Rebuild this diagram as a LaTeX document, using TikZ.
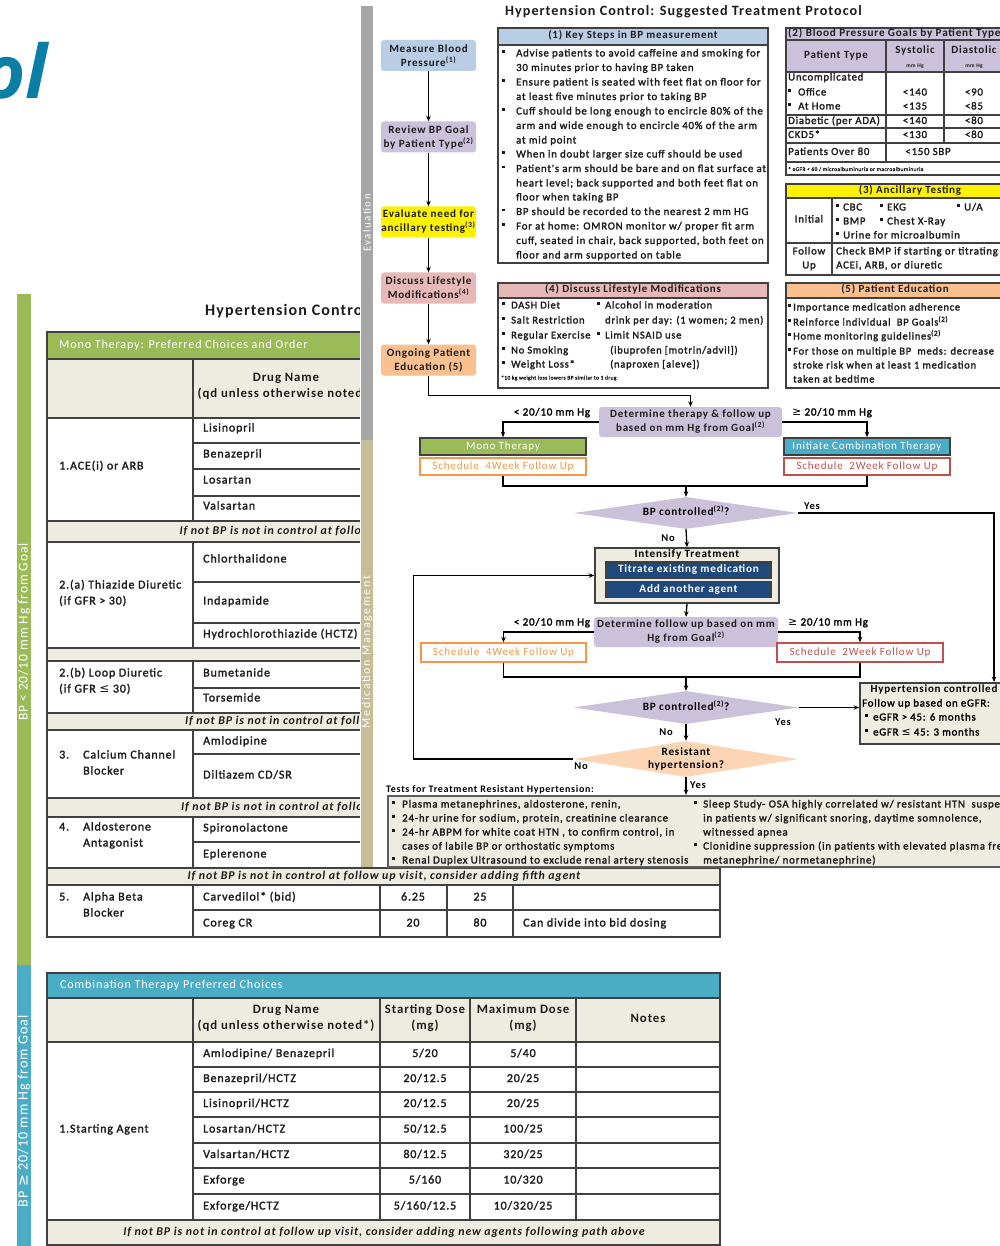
\documentclass[tikz,border=0pt]{standalone}
\usepackage{fontspec}
\setmainfont[LetterSpace=7]{Carlito}
\newfontfamily\bt[LetterSpace=7,FakeBold=1.8]{Carlito}
\newfontfamily\wsp[LetterSpace=14]{Carlito}
\newfontfamily\osans{Open Sans}
\newfontfamily\djs{DejaVu Sans}
\usetikzlibrary{shapes.geometric,arrows.meta}
\definecolor{olblue}{HTML}{0A7EA4}
\definecolor{mgreen}{HTML}{9BBB59}
\definecolor{cblue}{HTML}{4BACC6}
\definecolor{bgray}{HTML}{A6A6A6}
\definecolor{btan}{HTML}{C4BD97}
\definecolor{beige}{HTML}{EEECE1}
\definecolor{tline}{HTML}{404040}
\definecolor{lblue}{HTML}{B9CDE5}
\definecolor{lav}{HTML}{CCC1DA}
\definecolor{pinkc}{HTML}{E6B9B8}
\definecolor{orangec}{HTML}{FAC090}
\definecolor{peach}{HTML}{FCD5B5}
\definecolor{orline}{HTML}{F79646}
\definecolor{redline}{HTML}{C0504D}
\definecolor{navy}{HTML}{1F497D}
\definecolor{ink}{HTML}{1C1C1C}
\newcommand\fz[1]{\fontsize{#1}{#1}\selectfont}
\newcommand\fzb[2]{\fontsize{#1}{#2}\selectfont}
\newcounter{nn}
\newcommand\T[3][]{\stepcounter{nn}\node[ln,#1] (n\thenn) at (#2) {#3};}
\newcommand\bul[1]{\llap{\makebox[#1][l]{\rule[0.36em]{0.24em}{0.24em}}}}
\newcommand\sgeq{{\djs\char"2265}}
\newcommand\sleq{{\djs\char"2264}}
\newcommand\spx[1]{\textsuperscript{(#1)}}
\tikzset{
  ln/.style={anchor=west, inner sep=0pt, text height=0.7em, text depth=0.2em},
  tl/.style={draw=tline, line width=2.2pt},
  tk/.style={draw=tline, line width=1.9pt},
  fb/.style={rounded corners=3pt, inner sep=0pt, minimum width=95pt, minimum height=31pt, align=center, font=\bfseries\fzb{11.1}{14}, text=ink},
  lb/.style={rounded corners=3pt, inner sep=0pt, fill=lav, align=center, font=\bfseries\fzb{11}{14}, text=ink},
  dia/.style={diamond, aspect=7, inner sep=0pt},
  sq/.style={inner sep=0pt, draw=tline, line width=1.5pt, font=\fz{11.1}},
  arr/.style={-{Stealth[length=5.5pt,width=4.5pt]}, line width=1.3pt},
  pl/.style={line width=1.3pt}
}
\begin{document}
\begin{tikzpicture}[x=1pt,y=-1pt]
\useasboundingbox (0,0) rectangle (1000,1246);
% ---------------- background document ----------------
\node[anchor=base east, inner sep=0pt, text=olblue, font=\osans\bfseries\itshape\fz{74}] (ol) at (48,99) {ol};
\fill[mgreen] (17,294) rectangle (31,965);
\node[rotate=90, text=white, font=\fz{13.5}, inner sep=0pt] (gbt) at (24,632) {BP < 20/10 mm Hg from Goal};
\fill[cblue] (17,965) rectangle (31,1246);
\node[rotate=90, text=white, font=\fz{14.2}, inner sep=0pt] (bbt) at (24,1111) {BP \sgeq{} 20/10 mm Hg from Goal};
\node[anchor=west, inner sep=0pt, font=\bfseries\fz{16}, text=ink] (t0) at (205,311) {Hypertension Control};
% mono table
\fill[mgreen] (47,332) rectangle (720,359);
\fill[beige] (47,359) rectangle (720,418);
\foreach \a/\b in {521/542,648/661,713/730,798/817,868/885} \fill[beige] (47,\a) rectangle (720,\b);
\draw[tl] (47,332) rectangle (720,937);
\foreach \yy in {359,418,521,542,648,661,713,730,798,817,868,885} \draw[tl] (47,\yy) -- (720,\yy);
\foreach \yy in {443,469,496,582,623,688,754,842,910} \draw[tl] (193,\yy) -- (720,\yy);
\foreach \a/\b in {359/521,542/648,661/713,730/798,817/868,885/937} {
  \draw[tl] (193,\a) -- (193,\b); \draw[tl] (380,\a) -- (380,\b);
  \draw[tl] (447,\a) -- (447,\b); \draw[tl] (513,\a) -- (513,\b);}
\begin{scope}[nodes={font=\bt\fz{12},text=ink}]
\T[text=white,font=\fz{12.1}]{59,345.5}{Mono Therapy: Preferred Choices and Order}
\T[anchor=center,font=\bfseries\fz{12.8}]{286,379}{Drug Name}
\T[anchor=center,font=\bfseries\fz{12.8}]{286,395}{(qd unless otherwise noted*)}
\T{59,467}{1.ACE(i) or ARB}
\T{203,429}{Lisinopril}
\T{203,455}{Benazepril}
\T{203,481}{Losartan}
\T{203,507}{Valsartan}
\T[anchor=center,font=\bfseries\itshape\fz{11.9}]{384,531.5}{If not BP is not in control at follow up visit, consider adding second agent}
\T{59,586}{2.(a) Thiazide Diuretic}
\T{59,602}{(if GFR > 30)}
\T{203,560}{Chlorthalidone}
\T{203,602}{Indapamide}
\T{203,635}{Hydrochlorothiazide (HCTZ)}
\T{59,674}{2.(b) Loop Diuretic}
\T{59,690}{(if GFR \sleq{} 30)}
\T{203,674}{Bumetanide}
\T{203,699}{Torsemide}
\T[anchor=center,font=\bfseries\itshape\fz{11.9}]{384,721.5}{If not BP is not in control at follow up visit, consider adding third agent}
\T{59,756}{3.}
\T{83,756}{Calcium Channel}
\T{83,772}{Blocker}
\T{203,742}{Amlodipine}
\T{203,776}{Diltiazem CD/SR}
\T[anchor=center,font=\bfseries\itshape\fz{11.9}]{384,807.5}{If not BP is not in control at follow up visit, consider adding fourth agent}
\T{59,828}{4.}
\T{83,828}{Aldosterone}
\T{83,844}{Antagonist}
\T{203,829}{Spironolactone}
\T{203,855}{Eplerenone}
\T[anchor=center,font=\bfseries\itshape\fz{11.9}]{384,876.5}{If not BP is not in control at follow up visit, consider adding fifth agent}
\T{59,898}{5.}
\T{83,898}{Alpha Beta}
\T{83,914}{Blocker}
\T{203,898}{Carvedilol* (bid)}
\T[anchor=center]{413,898}{6.25}
\T[anchor=center]{480,898}{25}
\T{203,924}{Coreg CR}
\T[anchor=center]{413,924}{20}
\T[anchor=center]{480,924}{80}
\T{523,924}{Can divide into bid dosing}
\end{scope}
% combination table
\fill[cblue] (47,973) rectangle (720,998);
\fill[beige] (47,998) rectangle (720,1042);
\fill[beige] (47,1220) rectangle (720,1245);
\draw[tl] (47,973) rectangle (720,1245);
\foreach \yy in {998,1042,1220} \draw[tl] (47,\yy) -- (720,\yy);
\foreach \yy in {1067,1092,1117,1143,1168,1194} \draw[tl] (193,\yy) -- (720,\yy);
\foreach \xx in {193,380,470,576} \draw[tl] (\xx,998) -- (\xx,1220);
\begin{scope}[nodes={font=\bt\fz{12},text=ink}]
\T[text=white,font=\fz{12.1}]{60,986}{Combination Therapy Preferred Choices}
\T[anchor=center,font=\bfseries\fz{12.8}]{286,1011}{Drug Name}
\T[anchor=center,font=\bfseries\fz{12.8}]{286,1027}{(qd unless otherwise noted*)}
\T[anchor=center,font=\bfseries\fz{12.8}]{425,1011}{Starting Dose}
\T[anchor=center,font=\bfseries\fz{12.8}]{425,1027}{(mg)}
\T[anchor=center,font=\bfseries\fz{12.8}]{523,1011}{Maximum Dose}
\T[anchor=center,font=\bfseries\fz{12.8}]{523,1027}{(mg)}
\T[anchor=center,font=\bfseries\fz{12.8}]{648,1020}{Notes}
\T{59,1130}{1.Starting Agent}
\T{203,1054.5}{Amlodipine/ Benazepril}
\T[anchor=center]{425,1054.5}{5/20}
\T[anchor=center]{523,1054.5}{5/40}
\T{203,1079.5}{Benazepril/HCTZ}
\T[anchor=center]{425,1079.5}{20/12.5}
\T[anchor=center]{523,1079.5}{20/25}
\T{203,1104.5}{Lisinopril/HCTZ}
\T[anchor=center]{425,1104.5}{20/12.5}
\T[anchor=center]{523,1104.5}{20/25}
\T{203,1130}{Losartan/HCTZ}
\T[anchor=center]{425,1130}{50/12.5}
\T[anchor=center]{523,1130}{100/25}
\T{203,1155.5}{Valsartan/HCTZ}
\T[anchor=center]{425,1155.5}{80/12.5}
\T[anchor=center]{523,1155.5}{320/25}
\T{203,1181}{Exforge}
\T[anchor=center]{425,1181}{5/160}
\T[anchor=center]{523,1181}{10/320}
\T{203,1207}{Exforge/HCTZ}
\T[anchor=center]{425,1207}{5/160/12.5}
\T[anchor=center]{523,1207}{10/320/25}
\T[anchor=center,font=\bfseries\itshape\fz{11.9}]{384,1233}{If not BP is not in control at follow up visit, consider adding new agents following path above}
\end{scope}
% ---------------- foreground document ----------------
\fill[white] (360,0) rectangle (1000,867);
\fill[bgray] (361,6) rectangle (373,440);
\node[rotate=90, text=white, font=\wsp\fz{10.8}, inner sep=0pt] (evl) at (367,223) {Evaluation};
\fill[btan] (361,440) rectangle (373,867);
\node[rotate=90, text=white, font=\wsp\fz{11.9}, inner sep=0pt] (mml) at (367,652) {Medication Management};
\node[anchor=west, inner sep=0pt, font=\bfseries\fz{14.2}, text=ink] (title) at (505,12) {Hypertension Control: Suggested Treatment Protocol};
% (1) key steps
\fill[lblue] (498,28) rectangle (768,45);
\draw[tk] (498,28) rectangle (768,263);
\draw[tk] (498,45) -- (768,45);
\begin{scope}[nodes={font=\bt\fz{10.8},text=ink}]
\T[anchor=center,font=\bfseries\fz{11}]{633,36.5}{(1) Key Steps in BP measurement}
\T{516,54}{\bul{14pt}Advise patients to avoid caffeine and smoking for}
\T{516,68.5}{30 minutes prior to having BP taken}
\T{516,83}{\bul{14pt}Ensure patient is seated with feet flat on floor for}
\T{516,97.5}{at least five minutes prior to taking BP}
\T{516,112}{\bul{14pt}Cuff should be long enough to encircle 80\% of the}
\T{516,126.5}{arm and wide enough to encircle 40\% of the arm}
\T{516,141}{at mid point}
\T{516,155}{\bul{14pt}When in doubt larger size cuff should be used}
\T{516,169.5}{\bul{14pt}Patient's arm should be bare and on flat surface at}
\T{516,184}{heart level; back supported and both feet flat on}
\T{516,198}{floor when taking BP}
\T{516,212.5}{\bul{14pt}BP should be recorded to the nearest 2 mm HG}
\T{516,227}{\bul{14pt}For at home: OMRON monitor w/ proper fit arm}
\T{516,241.5}{cuff, seated in chair, back supported, both feet on}
\T{516,256}{floor and arm supported on table}
\end{scope}
% (2) BP goals
\fill[lav] (786,28) rectangle (1005,72);
\draw[tk] (786,28) rectangle (1005,175);
\foreach \yy in {40,72,115,128,143,162} \draw[tk] (786,\yy) -- (1005,\yy);
\draw[tk] (886,40) -- (886,162);
\draw[tk] (944,40) -- (944,143);
\begin{scope}[nodes={font=\bt\fz{10.8},text=ink}]
\T[font=\bfseries\fz{11.2}]{788,34}{(2) Blood Pressure Goals by Patient Type}
\T[anchor=center,font=\bfseries\fz{11}]{836,56}{Patient Type}
\T[anchor=center,font=\bfseries\fz{11}]{915,51}{Systolic}
\T[anchor=center,font=\bfseries\fz{5.5}]{915,65}{mm Hg}
\T[anchor=center,font=\bfseries\fz{11}]{974,51}{Diastolic}
\T[anchor=center,font=\bfseries\fz{5.5}]{974,65}{mm Hg}
\T{788,78}{Uncomplicated}
\T{798,93}{\bul{10pt}Office}
\T{798,107}{\bul{10pt}At Home}
\T{788,121.5}{Diabetic (per ADA)}
\T{788,135.5}{CKD5*}
\T{788,152.5}{Patients Over 80}
\T[anchor=center]{915,93}{<140}
\T[anchor=center]{974,93}{<90}
\T[anchor=center]{915,107}{<135}
\T[anchor=center]{974,107}{<85}
\T[anchor=center]{915,121.5}{<140}
\T[anchor=center]{974,121.5}{<80}
\T[anchor=center]{915,135.5}{<130}
\T[anchor=center]{974,135.5}{<80}
\T[anchor=center]{928,152.5}{<150 SBP}
\T[font=\bt\fz{5.5}]{788,168.5}{* eGFR < 60 / microalbuminuria or macroalbuminuria}
\end{scope}
% (3) ancillary
\fill[yellow] (786,184) rectangle (1005,198);
\draw[tk] (786,184) rectangle (1005,275);
\draw[tk] (786,198) -- (1005,198);
\draw[tk] (786,243) -- (1005,243);
\draw[tk] (832,198) -- (832,275);
\begin{scope}[nodes={font=\bt\fz{10.8},text=ink}]
\T[anchor=center,font=\bfseries\fz{11}]{910,191}{(3) Ancillary Testing}
\T[anchor=center]{809,220}{Initial}
\T{843,208}{\bul{7pt}CBC}
\T{887,208}{\bul{7pt}EKG}
\T{964,208}{\bul{7pt}U/A}
\T{843,222}{\bul{7pt}BMP}
\T{887,222}{\bul{7pt}Chest X-Ray}
\T{843,236}{\bul{7pt}Urine for microalbumin}
\T[anchor=center]{809,252}{Follow}
\T[anchor=center]{809,266}{Up}
\T{836,252}{Check BMP if starting or titrating}
\T{836,266}{ACEi, ARB, or diuretic}
\end{scope}
% (4) lifestyle
\fill[pinkc] (498,283) rectangle (768,298);
\draw[tk] (498,283) rectangle (768,388);
\draw[tk] (498,298) -- (768,298);
\begin{scope}[nodes={font=\bt\fz{10.5},text=ink}]
\T[anchor=center,font=\bfseries\fz{11}]{633,290.5}{(4) Discuss Lifestyle Modifications}
\T{511,306}{\bul{9pt}DASH Diet}
\T{511,321}{\bul{9pt}Salt Restriction}
\T{511,336}{\bul{9pt}Regular Exercise}
\T{511,351}{\bul{9pt}No Smoking}
\T{511,365}{\bul{9pt}Weight Loss*}
\T[font=\bt\fz{5.5}]{501,377}{*10 kg weight loss lowers BP similar to 1 drug}
\T{605,306}{\bul{8pt}Alcohol in moderation}
\T{605,321}{drink per day: (1 women; 2 men)}
\T{605,336}{\bul{8pt}Limit NSAID use}
\T{610,351}{(ibuprofen [motrin/advil])}
\T{610,365}{(naproxen [aleve])}
\end{scope}
% (5) education
\fill[orangec] (786,283) rectangle (1005,298);
\draw[tk] (786,283) rectangle (1005,388);
\draw[tk] (786,298) -- (1005,298);
\begin{scope}[nodes={font=\bt\fz{10.5},text=ink}]
\T[anchor=center,font=\bfseries\fz{11}]{895,290.5}{(5) Patient Education}
\T{793,308}{\bul{5pt}Importance medication adherence}
\T{793,323}{\bul{5pt}Reinforce individual \ BP Goals\spx{2}}
\T{793,337}{\bul{5pt}Home monitoring guidelines\spx{2}}
\T{793,352}{\bul{5pt}For those on multiple BP \ meds: decrease}
\T{793,366}{stroke risk when at least 1 medication}
\T{793,380}{taken at bedtime}
\end{scope}
% flow nodes
\node[fb, fill=lblue] (mbp) at (428.5,55.5) {Measure Blood\\Pressure\spx{1}};
\node[fb, fill=lav] (rev) at (428.5,137) {Review BP Goal\\by Patient Type\spx{2}};
\node[fb, fill=yellow] (eva) at (428.5,222) {Evaluate need for\\ancillary testing\spx{3}};
\node[fb, fill=pinkc] (dis) at (428.5,288) {Discuss Lifestyle\\Modifications\spx{4}};
\node[fb, fill=orangec] (ong) at (428.5,360) {Ongoing Patient\\Education (5)};
\node[lb, minimum width=183pt, minimum height=30pt] (det1) at (690.5,422) {Determine therapy \& follow up\\based on mm Hg from Goal\spx{2}};
\node[ln, font=\bt\fz{11}, anchor=center] (lt1) at (552,413) {< 20/10 mm Hg};
\node[ln, font=\bt\fz{11}, anchor=center] (ge1) at (832,413) {\sgeq{} 20/10 mm Hg};
\node[sq, fill=mgreen, text=white, minimum width=166pt, minimum height=17pt] (mono) at (503,446.5) {Mono Therapy};
\node[sq, draw=orline, fill=white, text=orline, line width=1.4pt, minimum width=166pt, minimum height=17pt] (s4a) at (503,466.5) {Schedule \ 4Week Follow Up};
\node[sq, fill=cblue, text=white, minimum width=166pt, minimum height=17pt] (comb) at (867,446.5) {Initiate Combination Therapy};
\node[sq, draw=redline, fill=white, text=redline, line width=1.4pt, minimum width=166pt, minimum height=17pt] (s2a) at (867,466.5) {Schedule \ 2Week Follow Up};
\node[dia, fill=lav, minimum width=224pt, minimum height=32pt] (d1) at (686,513) {};
\node[ln, anchor=center, font=\bfseries\fz{11.2}] (d1t) at (d1) {BP controlled\spx{2}?};
\node[inner sep=0pt, fill=beige, draw=tline, line width=1.5pt, minimum width=184pt, minimum height=55pt] (int) at (687,575.5) {};
\node[ln, anchor=center, font=\bfseries\fz{11.2}] (intt) at (687,555) {Intensify Treatment};
\node[sq, fill=navy, text=white, font=\bfseries\fz{11.2}, minimum width=165pt, minimum height=16pt] (tit) at (688.5,570) {Titrate existing medication};
\node[sq, fill=navy, text=white, font=\bfseries\fz{11.2}, minimum width=165pt, minimum height=16pt] (add) at (688.5,589.5) {Add another agent};
\node[lb, minimum width=184pt, minimum height=30pt] (det2) at (686,632) {Determine follow up based on mm\\Hg from Goal\spx{2}};
\node[ln, font=\bt\fz{11}, anchor=center] (lt2) at (552,623) {< 20/10 mm Hg};
\node[ln, font=\bt\fz{11}, anchor=center] (ge2) at (828,623) {\sgeq{} 20/10 mm Hg};
\node[sq, draw=orline, fill=white, text=orline, line width=1.4pt, minimum width=165pt, minimum height=19pt] (s4b) at (503.5,652.5) {Schedule \ 4Week Follow Up};
\node[sq, draw=redline, fill=white, text=redline, line width=1.4pt, minimum width=166pt, minimum height=19pt] (s2b) at (860,652.5) {Schedule \ 2Week Follow Up};
\node[dia, fill=lav, minimum width=225pt, minimum height=33pt] (d2) at (686,707.5) {};
\node[ln, anchor=center, font=\bfseries\fz{11.2}] (d2t) at (d2) {BP controlled\spx{2}?};
\node[dia, fill=peach, minimum width=225pt, minimum height=36pt] (d3) at (686,759) {};
\node[anchor=center, inner sep=0pt, align=center, font=\bfseries\fzb{11.2}{13.5}] (d3t) at (d3) {Resistant\\hypertension?};
\node[inner sep=0pt, fill=beige, draw=tline, line width=1.8pt, minimum width=152pt, minimum height=61pt] (htn) at (936,713.5) {};
\node[ln, anchor=center, font=\bfseries\fz{11}] (htn1) at (934,690) {Hypertension controlled};
\node[ln, font=\bt\fz{10.8}] (htn2) at (862,704) {Follow up based on eGFR:};
\node[ln, font=\bt\fz{10.8}] (htn3) at (873,718) {\bul{8pt}eGFR > 45: 6 months};
\node[ln, font=\bt\fz{10.8}] (htn4) at (873,733) {\bul{8pt}eGFR \sleq{} 45: 3 months};
\node[ln, font=\bfseries\fz{10}] (ttl) at (386,790) {Tests for Treatment Resistant Hypertension:};
\node[inner sep=0pt, fill=beige, draw=tline!85, line width=2.2pt, minimum width=624pt, minimum height=71pt] (tests) at (700,831.5) {};
\begin{scope}[nodes={font=\bt\fz{10.9},text=ink}]
\T{402,805}{\bul{10pt}Plasma metanephrines, aldosterone, renin,}
\T{402,819}{\bul{10pt}24-hr urine for sodium, protein, creatinine clearance}
\T{402,833}{\bul{10pt}24-hr ABPM for white coat HTN , to confirm control, in}
\T{402,847}{cases of labile BP or orthostatic symptoms}
\T{402,861}{\bul{10pt}Renal Duplex Ultrasound to exclude renal artery stenosis}
\T{703,805}{\bul{9pt}Sleep Study- OSA highly correlated w/ resistant HTN \ suspect}
\T{703,819}{in patients w/ significant snoring, daytime somnolence,}
\T{703,833}{witnessed apnea}
\T{703,847}{\bul{9pt}Clonidine suppression (in patients with elevated plasma free}
\T{703,861}{metanephrine/ normetanephrine)}
\end{scope}
% labels
\node[ln, anchor=center, font=\bfseries\fz{10.5}] (y1) at (812,507) {Yes};
\node[ln, anchor=center, font=\bfseries\fz{10.5}] (no1) at (668,539) {No};
\node[ln, anchor=center, font=\bfseries\fz{10.5}] (y2) at (783,723) {Yes};
\node[ln, anchor=center, font=\bfseries\fz{10.5}] (no2) at (666,733) {No};
\node[ln, anchor=center, font=\bfseries\fz{10.5}] (no3) at (581,767) {No};
\node[ln, anchor=center, font=\bfseries\fz{10.5}] (y3) at (698,786) {Yes};
% connectors
\draw[arr] (mbp) -- (rev);
\draw[arr] (rev) -- (eva);
\draw[arr] (eva) -- (dis);
\draw[arr] (dis) -- (ong);
\draw[arr] (ong.south) -- ++(0,20) -| (det1.north);
\draw[arr] (det1.west) -| (mono.north);
\draw[arr] (det1.east) -| (comb.north);
\coordinate (j1) at (686,486);
\draw[pl] (s4a.south) |- (j1) -| (s2a.south);
\draw[arr] (j1) -- (d1.north);
\coordinate (yes1) at (994,513);
\draw[arr] (d1.east) -- (yes1) -- (yes1 |- htn.north);
\draw[arr] (d1.south) -- (int.north);
\draw[arr] (int.south) -- (det2.north);
\draw[arr] (det2.west) -| (s4b.north);
\draw[arr] (det2.east) -| (s2b.north);
\coordinate (j2) at (686,677);
\draw[pl] (s4b.south) |- (j2) -| (s2b.south);
\draw[arr] (j2) -- (d2.north);
\draw[arr] (d2.east) -- (d2.east -| htn.west);
\draw[arr] (d2.south) -- (d3.north);
\draw[arr] (d3.south) -- (d3.south |- tests.north);
\draw[arr] (d3.west) -- ++(-160,0) |- (int.west);
\end{tikzpicture}
\end{document}
